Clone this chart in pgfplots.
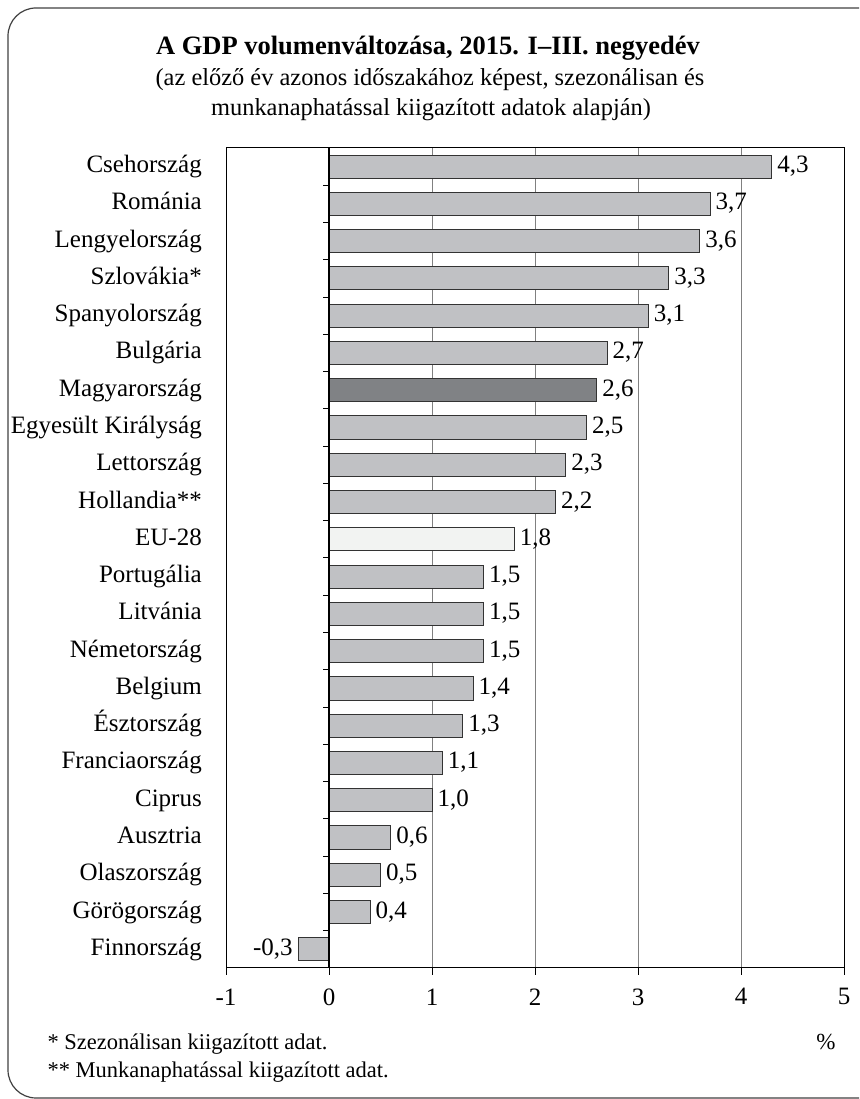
\documentclass[border=0pt]{standalone}
\usepackage{pgfplots}
\pgfplotsset{compat=1.18}
\usepackage{fontspec}
\setmainfont{Liberation Serif}
\definecolor{barg}{HTML}{C0C1C4}
\definecolor{bard}{HTML}{808285}
\definecolor{barl}{HTML}{F2F3F2}
\definecolor{edge}{HTML}{333333}
\definecolor{gridc}{HTML}{808080}

\pgfplotstableread{
y v
21 4.3
20 3.7
19 3.6
18 3.3
17 3.1
16 2.7
14 2.5
13 2.3
12 2.2
10 1.5
9 1.5
8 1.5
7 1.4
6 1.3
5 1.1
4 1.0
3 0.6
2 0.5
1 0.4
0 -0.3
}\maindata
\pgfplotstableread{
y v
15 2.6
}\hudata
\pgfplotstableread{
y v
11 1.8
}\eudata

\begin{document}
\begin{tikzpicture}
\useasboundingbox (0pt,0pt) rectangle (859pt,1099pt);
\begin{scope}
\clip (0pt,0pt) rectangle (859pt,1099pt);
\draw[rounded corners=28pt, line width=1.2pt, color=black!75] (8pt,1pt) rectangle (885pt,1091pt);
\end{scope}
\node[anchor=base, font=\bfseries\fontsize{26.5}{30}\selectfont] at (428pt,1044pt) {A GDP volumenváltozása, 2015. I–III. negyedév};
\node[anchor=base, font=\fontsize{24.4}{28}\selectfont] at (430pt,1013pt) {(az előző év azonos időszakához képest, szezonálisan és};
\node[anchor=base, font=\fontsize{24.4}{28}\selectfont] at (431pt,983pt) {munkanaphatással kiigazított adatok alapján)};
\node[anchor=base west, font=\fontsize{22.5}{25}\selectfont] at (44pt,49pt) {* Szezonálisan kiigazított adat.};
\node[anchor=base west, font=\fontsize{22.5}{25}\selectfont] at (44pt,21pt) {** Munkanaphatással kiigazított adat.};
\node[anchor=base, font=\fontsize{23}{25}\selectfont] at (826pt,49pt) {\%};
\begin{axis}[
  at={(226pt,131pt)}, anchor=south west,
  width=618pt, height=820pt, scale only axis,
  xmin=-1, xmax=5, ymin=-0.5, ymax=21.5,
  xbar, bar width=0.62, bar shift=0pt,
  xtick={-1,0,1,2,3,4,5},
  xticklabels={-1,0,1,2,3,4,5},
  xtick pos=bottom, xtick align=outside,
  major tick length=7pt,
  x tick style={black, line width=1pt},
  xticklabel style={font=\fontsize{25}{28}\selectfont, yshift=-10pt},
  ytick={0,...,21},
  yticklabels={Finnország,Görögország,Olaszország,Ausztria,Ciprus,Franciaország,Észtország,Belgium,Németország,Litvánia,Portugália,EU-28,Hollandia**,Lettország,Egyesült Királyság,Magyarország,Bulgária,Spanyolország,Szlovákia*,Lengyelország,Románia,Csehország},
  y tick style={draw=none},
  yticklabel style={font=\fontsize{25}{28}\selectfont, anchor=east, inner sep=0pt, text height=17pt, text depth=5pt, xshift=-17pt},
  xmajorgrids, grid style={gridc, line width=1pt},
  axis line style={black, line width=1pt},
  nodes near coords,
  nodes near coords style={font=\fontsize{25}{28}\selectfont, inner sep=5pt, text height=17pt, text depth=5pt, text=black},
  /pgf/number format/.cd, use comma, fixed, fixed zerofill, precision=1, assume math mode=true,
]
\addplot[fill=barg, draw=edge, line width=1pt] table[x=v, y=y] {\maindata};
\addplot[fill=bard, draw=edge, line width=1pt] table[x=v, y=y] {\hudata};
\addplot[fill=barl, draw=edge, line width=1pt] table[x=v, y=y] {\eudata};
\draw[black, line width=1.6pt] (axis cs:0,-0.5) -- (axis cs:0,21.5);
\pgfplotsinvokeforeach{0,...,20}{\draw[black, line width=1pt] (axis cs:0,#1.5) -- ++(-6pt,0pt);}
\draw[black, line width=2pt] (rel axis cs:0,0) -- (rel axis cs:1,0);
\end{axis}
\end{tikzpicture}
\end{document}
